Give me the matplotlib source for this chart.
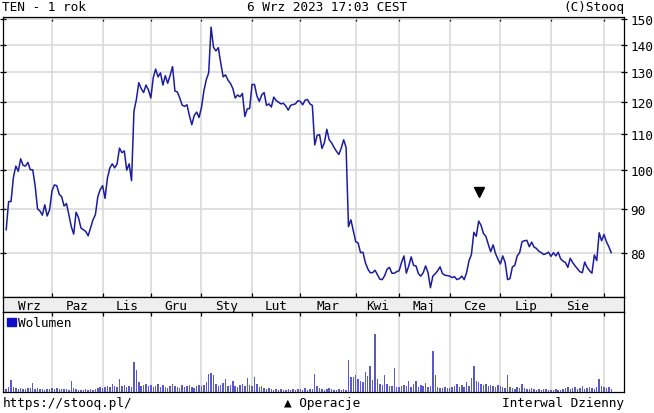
import matplotlib
matplotlib.use("Agg")

import numpy as np
import pandas as pd
import matplotlib.pyplot as plt
from matplotlib.patches import Patch

# ------------------------------------------------------------------
# Data: TEN daily close and volume, 6 Sep 2022 - 6 Sep 2023
# (one per session)
# ------------------------------------------------------------------

close_sep22 = [85.1, 91.8, 91.8, 98, 101, 99.6, 103, 101.2, 101, 102, 100, 100,
               95.8, 90, 89.5, 88.5, 91, 88.3, 89.8]
close_oct22 = [94.5, 96, 95.8, 93.6, 93, 90.7, 91.3, 88.6, 85.8, 84.1, 89.2, 87.9,
               85.5, 85.1, 84.7, 83.7, 85.5, 87.4, 88.6, 93, 94.8]
close_nov22 = [95.8, 92.6, 97.8, 100.5, 101.6, 100.5, 101.6, 106, 104.7, 105.2,
               99.9, 101.6, 97.1, 117.1, 120.8, 126.4, 124.4, 123.1, 125.6, 124]
close_dec22 = [121.3, 128.1, 131.1, 128.4, 129.8, 125.6, 128.8, 126.2, 128.9, 132,
               123.6, 123.3, 121.3, 119, 118.6, 119.1, 115.7, 112.9, 115.7, 116.8, 115.1]
close_jan23 = [118.2, 123.6, 127.4, 129.8, 146.8, 139, 137.7, 138.9, 133.3, 128.4,
               129.1, 127.3, 126.2, 124.5, 121.3, 122.3, 121.7, 122.8, 115.4, 117.8, 117.9]
close_feb23 = [125.8, 125.8, 122, 120.2, 122.3, 123.1, 118.9, 119.4, 118.4, 121.6,
               120.5, 119.9, 119.4, 119.6, 118.7, 117.4, 118.9, 119.2, 119.4, 120.4]
close_mar23 = [120.2, 119.1, 120.6, 120.8, 119.4, 118.9, 106.9, 109.7, 109.9, 105.9,
               107.5, 111.5, 108.4, 107.5, 106.2, 105.1, 104.2, 106, 108.4, 106.2,
               85.8, 87.4, 84.9]
close_apr23 = [82.4, 82.1, 80, 80.1, 77.9, 76.6, 75.8, 75.8, 76.3, 75.4, 74.5, 74.4,
               75.2, 76.5, 76.9, 75.7, 75.7, 76]
close_may23 = [76.2, 77.9, 79.3, 75.7, 77.2, 79.1, 77.3, 77.2, 75.6, 75.1, 75.8, 77.2,
               75.8, 72.8, 75.1, 75.6, 76.2, 77, 75.6, 75.3, 75.2]
close_jun23 = [75.1, 74.8, 75, 74.4, 74.6, 75.1, 74.4, 75.8, 78.3, 79.6, 84.5, 83.6,
               87.1, 86.1, 84.2, 83.6, 81.8, 80.2, 81.7, 79.8, 78.6]
close_jul23 = [77.6, 79.3, 77.9, 74.4, 74.6, 77, 77.3, 79.3, 80, 82.4, 82.6, 82.7,
               81.3, 82.3, 81.2, 80.9, 80.3, 80, 79.6, 79.8, 80.1]
close_aug23 = [79.2, 80, 79.3, 80.1, 78.7, 78.2, 77.9, 76.9, 78.8, 77.9, 77.2, 76.6,
               76, 75.8, 78, 76.9, 76.2, 75.7, 79.5, 78.3, 84.4, 82.6]
close_sep23 = [84, 82.4, 81.3, 80]

# volume in thousands of shares
vol_sep22 = [3, 5, 12, 5, 4, 3, 4, 3, 3, 4, 4, 9, 3, 4, 3, 3, 2, 3, 3]
vol_oct22 = [4, 3, 4, 3, 3, 3, 3, 2, 11, 4, 3, 2, 2, 2, 3, 2, 3, 2, 3, 4, 5]
vol_nov22 = [4, 5, 6, 5, 8, 6, 5, 13, 6, 7, 5, 6, 5, 30, 22, 10, 6, 7, 8, 6]
vol_dec22 = [7, 5, 6, 8, 5, 7, 5, 4, 6, 8, 6, 5, 4, 7, 5, 6, 7, 5, 4, 6, 7]
vol_jan23 = [6, 7, 10, 18, 19, 17, 8, 6, 7, 9, 13, 6, 7, 11, 6, 5, 7, 8, 6, 14, 7]
vol_feb23 = [6, 15, 8, 5, 6, 4, 3, 4, 3, 2, 3, 2, 3, 2, 2, 3, 2, 3, 2, 3]
vol_mar23 = [3, 2, 4, 2, 3, 3, 18, 6, 4, 3, 2, 3, 4, 3, 2, 2, 3, 2, 3, 2, 32, 15, 15]
vol_apr23 = [17, 13, 11, 10, 20, 16, 26, 12, 58, 13, 8, 7, 17, 8, 6, 6, 24, 5]
vol_may23 = [5, 6, 7, 6, 11, 5, 8, 11, 5, 7, 6, 9, 5, 6, 41, 17, 5, 4, 4, 5, 4]
vol_jun23 = [4, 5, 6, 8, 5, 7, 5, 10, 6, 14, 26, 11, 10, 8, 7, 8, 6, 7, 6, 5, 7]
vol_jul23 = [6, 5, 4, 17, 5, 4, 3, 5, 4, 8, 4, 3, 3, 4, 3, 2, 3, 2, 3, 3, 2]
vol_aug23 = [2, 2, 3, 2, 2, 3, 4, 5, 3, 4, 5, 3, 4, 6, 3, 4, 5, 4, 3, 5, 13, 6]
vol_sep23 = [5, 4, 5, 3]

# GPW sessions closed on these weekdays
holidays = ["2022-11-01", "2022-11-11", "2022-12-26", "2023-01-06", "2023-04-07",
            "2023-04-10", "2023-05-01", "2023-05-03", "2023-06-08", "2023-08-15"]

month_names = ["Wrz", "Paz", "Lis", "Gru", "Sty", "Lut",
               "Mar", "Kwi", "Maj", "Cze", "Lip", "Sie"]
price_levels = [80, 90, 100, 110, 120, 130, 140, 150]

# operation marker (dividend etc.)
op_date = "2023-06-20"

# ------------------------------------------------------------------
# Build series
# ------------------------------------------------------------------

dates = pd.bdate_range("2022-09-06", "2023-09-06")
dates = dates[~dates.isin(pd.to_datetime(holidays))]

close = np.concatenate([close_sep22, close_oct22, close_nov22, close_dec22,
                        close_jan23, close_feb23, close_mar23, close_apr23,
                        close_may23, close_jun23, close_jul23, close_aug23,
                        close_sep23])
volume = np.concatenate([vol_sep22, vol_oct22, vol_nov22, vol_dec22, vol_jan23,
                         vol_feb23, vol_mar23, vol_apr23, vol_may23, vol_jun23,
                         vol_jul23, vol_aug23, vol_sep23])
x = np.arange(len(dates))

month_start = [i for i in range(1, len(dates)) if dates[i].month != dates[i - 1].month]
bounds = [0] + month_start
label_pos = [(bounds[k] + bounds[k + 1]) / 2 for k in range(len(month_names))]

op_idx = int(np.where(dates == pd.Timestamp(op_date))[0][0])

# ------------------------------------------------------------------
# Layout (pixel boxes on a 654x414 canvas)
# ------------------------------------------------------------------

W, H = 654, 414
FONT = ["DejaVu Sans Mono", "DejaVu Sans"]
FS = 9.2
LINE = "#1c1c9e"
BARS = "#5a5ac6"
GRID = "#dadada"
XLIM = (-1.33, 256.3)

plt.rcParams["font.family"] = FONT


def box(left, top, right, bottom):
    return [left / W, 1 - bottom / H, (right - left) / W, (bottom - top) / H]


fig = plt.figure(figsize=(W / 100, H / 100), dpi=100)
ax = fig.add_axes(box(3, 18, 624, 298))
band = fig.add_axes(box(3, 298, 624, 313))
axv = fig.add_axes(box(3, 313, 624, 393))

for a in (ax, band, axv):
    for s in a.spines.values():
        s.set_linewidth(0.9)
    a.set_xlim(*XLIM)

# price panel
ax.plot(x, close, color=LINE, lw=1.1, zorder=3)
ax.plot(op_idx, close[op_idx] * 1.08, marker="v", color="black", ms=7, zorder=4)
ax.set_yscale("log")
ax.set_ylim(71.0, 150.85)
ax.yaxis.set_minor_locator(matplotlib.ticker.NullLocator())
ax.set_yticks(price_levels)
ax.set_yticklabels([str(v) for v in price_levels], fontsize=FS)
ax.tick_params(axis="y", left=True, right=True, labelleft=False, labelright=True,
               direction="inout", length=5, width=0.9, pad=2)
ax.set_xticks(month_start)
ax.tick_params(axis="x", top=True, bottom=True, labelbottom=False,
               direction="in", length=3, width=0.9)
ax.grid(True, color=GRID, lw=1.2, zorder=0)

# month band
band.set_facecolor("#eeeeee")
band.set_xticks([])
band.set_yticks([])
band.set_ylim(0, 1)
for pos, name in zip(label_pos, month_names):
    band.text(pos, 0.45, name, ha="center", va="center", fontsize=FS)

# volume panel
axv.bar(x, volume, width=0.6, color=BARS, zorder=3)
axv.set_ylim(0, max(volume) * 80 / 58)
axv.set_yticks([])
axv.set_xticks(month_start)
axv.tick_params(axis="x", top=True, bottom=False, labelbottom=False,
                direction="in", length=3, width=0.9)
axv.grid(True, axis="x", color=GRID, lw=1.2, zorder=0)
axv.legend(handles=[Patch(color="#1010c8", label="Wolumen")], loc="upper left",
           frameon=False, fontsize=FS, handlelength=0.65, handleheight=0.65,
           handletextpad=0.2, borderaxespad=0.15, borderpad=0.2)

# header / footer
fig.text(2 / W, 1 - 11 / H, "TEN - 1 rok", fontsize=FS, va="baseline")
fig.text(327 / W, 1 - 11 / H, "6 Wrz 2023 17:03 CEST", fontsize=FS, va="baseline", ha="center")
fig.text(624 / W, 1 - 11 / H, "(C)Stooq", fontsize=FS, va="baseline", ha="right")
fig.text(3 / W, 1 - 407 / H, "https://stooq.pl/", fontsize=FS, va="baseline")
fig.text(322 / W, 1 - 407 / H, "▲ Operacje", fontsize=FS, va="baseline", ha="center")
fig.text(624 / W, 1 - 407 / H, "Interwal Dzienny", fontsize=FS, va="baseline", ha="right")

fig.savefig("out.png", dpi=100)
